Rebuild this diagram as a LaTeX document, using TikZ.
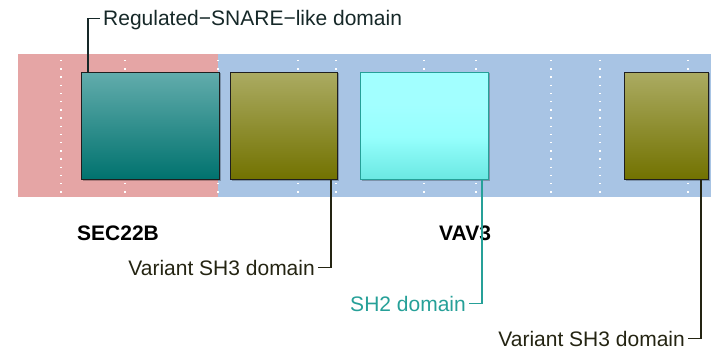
\documentclass[tikz,border=0pt]{standalone}
\usepackage{fontspec}
\setmainfont{Liberation Sans}
\definecolor{pinkband}{RGB}{229,165,165}
\definecolor{blueband}{RGB}{168,196,228}
\definecolor{tealtop}{RGB}{98,172,172}
\definecolor{tealbot}{RGB}{0,114,110}
\definecolor{olivetop}{RGB}{171,171,98}
\definecolor{olivebot}{RGB}{114,114,0}
\definecolor{cyantop}{RGB}{162,255,255}
\definecolor{cyanmid}{RGB}{150,255,253}
\definecolor{cyanbot}{RGB}{106,232,226}
\definecolor{cyanedge}{RGB}{38,160,152}
\definecolor{darkteal}{RGB}{22,40,40}
\definecolor{darkolive}{RGB}{36,36,18}
\definecolor{sh2col}{RGB}{38,160,152}
% light cyan that only darkens in its lower third
\pgfdeclareverticalshading{cyanfade}{100bp}{color(0bp)=(cyanbot); color(25bp)=(cyanbot);
  color(45bp)=(cyanmid); color(60bp)=(cyantop); color(100bp)=(cyantop)}
\begin{document}
\begin{tikzpicture}[x=1pt,y=-1pt,
  lbl/.style={font=\fontsize{21}{25}\selectfont, inner xsep=3pt, inner ysep=0pt,
              text height=15pt, text depth=0pt},
  gene/.style={font=\fontsize{21}{25}\selectfont\bfseries, inner sep=0pt, text=black},
  dom/.style={draw=black!88, line width=1pt, inner sep=0pt, anchor=north west},
  tealdom/.style={dom, top color=tealtop, bottom color=tealbot},
  olivedom/.style={dom, top color=olivetop, bottom color=olivebot},
  cyandom/.style={dom, draw=cyanedge, shading=cyanfade},
  grid/.style={white, line width=1.4pt, dash pattern=on 1.4pt off 6.8pt},
  lead/.style={line width=1.2pt}
]
\useasboundingbox (0,0) rectangle (719,358);

% protein bands
\fill[pinkband] (18,54) rectangle (218,197);
\fill[blueband] (218,54) rectangle (711,197);

% white dotted grid
\foreach \gx in {61,125,218,298,336,424,476,551,600,688}
  \draw[grid] (\gx,60) -- (\gx,197);

% drop shadows
\foreach \ax/\bx in {81/219,230/337,360/488,624/708}
  \fill[black, opacity=0.25] (\ax+1.5,73.5) rectangle (\bx+1.5,180.5);

% domains
\node[tealdom, minimum width=138pt, minimum height=107pt] (snare) at (81,72) {};
\node[olivedom, minimum width=107pt, minimum height=107pt] (sh3a) at (230,72) {};
\node[cyandom, minimum width=128pt, minimum height=107pt] (sh2) at (360,72) {};
\node[olivedom, minimum width=84pt, minimum height=107pt] (sh3b) at (624,72) {};

% gene names
\node[gene, anchor=base west] (sec) at (77,240) {SEC22B};
\node[gene, anchor=base west] (vav) at (439,240) {VAV3};

% domain labels
\node[lbl, anchor=base west, text=darkteal] (labsnare) at (100,26) {Regulated−SNARE−like domain};
\node[lbl, anchor=base east, text=darkolive] (labsh3a) at (318,275) {Variant SH3 domain};
\node[lbl, anchor=base east, text=sh2col] (labsh2) at (469,311) {SH2 domain};
\node[lbl, anchor=base east, text=darkolive] (labsh3b) at (688,346) {Variant SH3 domain};

% leader lines
\draw[lead, darkteal] ([xshift=7pt]snare.north west) |- (labsnare.west);
\draw[lead, darkolive] ([xshift=-7pt]sh3a.south east) |- (labsh3a.east);
\draw[lead, sh2col] ([xshift=-7pt]sh2.south east) |- (labsh2.east);
\draw[lead, darkolive] ([xshift=-8pt]sh3b.south east) |- (labsh3b.east);
\end{tikzpicture}
\end{document}
